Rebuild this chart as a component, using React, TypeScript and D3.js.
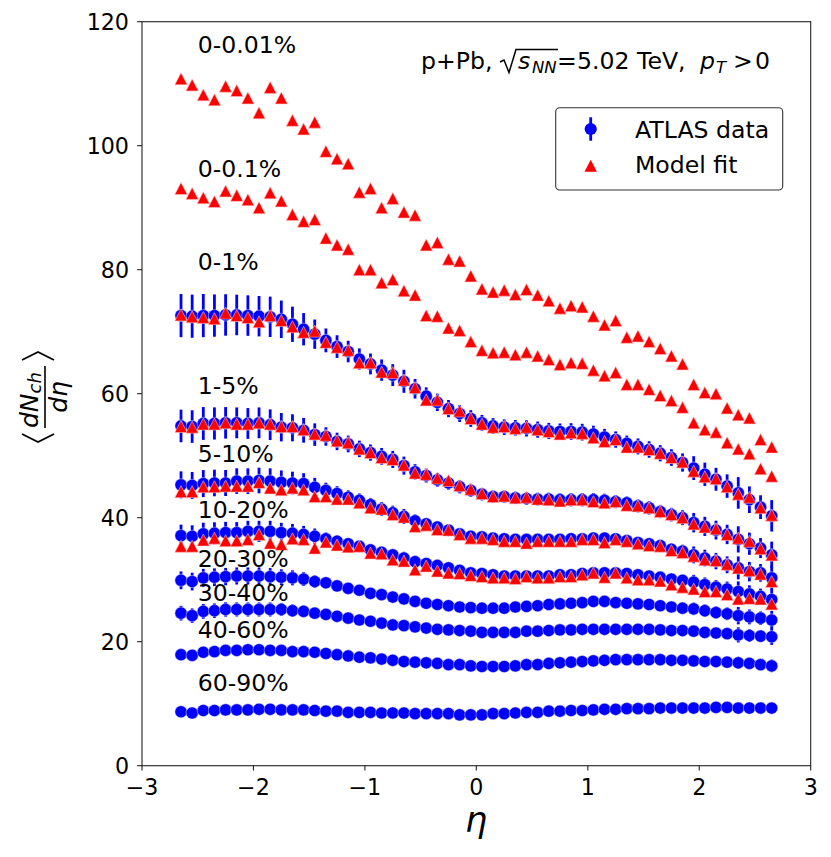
import * as d3 from 'd3';

const eta = [
  -2.65, -2.55, -2.45, -2.35, -2.25, -2.15, -2.05, -1.95, -1.85, -1.75, -1.65, -1.55, -1.45, -1.35,
  -1.25, -1.15, -1.05, -0.95, -0.85, -0.75, -0.65, -0.55, -0.45, -0.35, -0.25, -0.15, -0.05,
  0.05, 0.15, 0.25, 0.35, 0.45, 0.55, 0.65, 0.75, 0.85, 0.95, 1.05, 1.15, 1.25, 1.35, 1.45,
  1.55, 1.65, 1.75, 1.85, 1.95, 2.05, 2.15, 2.25, 2.35, 2.45, 2.55, 2.65,
];

// ATLAS data (blue circles)
const data0_1 = [72.6, 72.5, 72.6, 72.6, 72.7, 72.7, 72.6, 72.5, 72.4, 72.0, 71.2, 70.4, 69.6, 68.6, 67.6, 66.8, 65.6, 64.8, 63.8, 63.0, 62.0, 60.8, 59.6, 58.6, 57.6, 56.8, 56.0, 55.3, 54.8, 54.6, 54.5, 54.4, 54.2, 54.0, 53.9, 53.9, 53.8, 53.5, 53.0, 52.6, 52.0, 51.5, 51.0, 50.4, 49.7, 48.9, 48.0, 47.0, 46.2, 45.1, 44.0, 42.9, 41.7, 40.3];
const data1_5 = [54.8, 54.7, 55.2, 55.2, 55.3, 55.3, 55.2, 55.3, 55.0, 54.6, 54.5, 54.1, 53.4, 53.1, 52.3, 51.9, 51.1, 50.5, 49.9, 49.4, 48.4, 47.4, 46.8, 46.1, 45.6, 45.0, 44.4, 43.8, 43.4, 43.4, 43.2, 43.1, 43.0, 43.0, 42.9, 42.9, 42.9, 42.9, 42.8, 42.6, 42.4, 41.9, 41.6, 41.0, 40.5, 40.0, 39.2, 38.6, 38.0, 37.3, 36.5, 35.8, 35.1, 34.0];
const data5_10 = [45.3, 45.2, 45.5, 45.6, 45.6, 45.9, 45.9, 46.0, 45.9, 45.7, 45.6, 45.5, 44.9, 44.4, 43.9, 43.3, 42.8, 42.1, 41.4, 40.8, 40.2, 39.5, 39.0, 38.5, 38.0, 37.4, 37.0, 36.9, 36.7, 36.6, 36.5, 36.5, 36.5, 36.5, 36.5, 36.6, 36.6, 36.7, 36.7, 36.6, 36.3, 36.0, 35.8, 35.5, 34.9, 34.6, 34.0, 33.5, 33.0, 32.4, 31.9, 31.3, 31.1, 30.3];
const data10_20 = [37.1, 37.0, 37.4, 37.5, 37.6, 37.6, 37.8, 37.8, 37.8, 37.6, 37.5, 37.3, 37.0, 36.6, 36.2, 35.8, 35.4, 34.8, 34.4, 34.0, 33.5, 32.9, 32.6, 32.3, 31.9, 31.5, 31.1, 31.0, 30.8, 30.6, 30.6, 30.6, 30.6, 30.6, 30.8, 30.8, 31.0, 31.1, 31.1, 31.1, 31.0, 30.8, 30.6, 30.4, 30.1, 29.9, 29.6, 29.2, 28.8, 28.5, 28.1, 27.7, 27.3, 26.8];
const data20_30 = [29.9, 29.7, 30.3, 30.4, 30.5, 30.6, 30.6, 30.6, 30.5, 30.4, 30.3, 30.1, 29.7, 29.5, 29.0, 28.6, 28.3, 27.8, 27.6, 27.2, 26.9, 26.5, 26.2, 26.0, 25.8, 25.6, 25.5, 25.4, 25.4, 25.4, 25.6, 25.7, 25.8, 26.0, 26.1, 26.2, 26.3, 26.5, 26.5, 26.3, 26.2, 26.1, 26.0, 25.8, 25.6, 25.4, 25.3, 25.0, 24.7, 24.5, 24.2, 24.0, 23.8, 23.5];
const data30_40 = [24.6, 24.2, 24.9, 25.0, 25.2, 25.2, 25.2, 25.2, 25.2, 25.2, 25.0, 24.9, 24.6, 24.4, 24.1, 23.8, 23.5, 23.3, 23.0, 22.7, 22.6, 22.4, 22.2, 22.0, 21.9, 21.8, 21.7, 21.5, 21.5, 21.5, 21.5, 21.7, 21.7, 21.8, 21.9, 21.9, 22.0, 22.0, 22.0, 22.0, 22.0, 22.0, 22.0, 21.9, 21.8, 21.8, 21.7, 21.5, 21.4, 21.3, 21.1, 21.0, 20.9, 20.8];
const data40_60 = [17.9, 17.8, 18.3, 18.4, 18.6, 18.6, 18.7, 18.7, 18.6, 18.6, 18.4, 18.4, 18.3, 18.1, 17.9, 17.7, 17.5, 17.4, 17.2, 17.0, 16.8, 16.7, 16.6, 16.5, 16.3, 16.3, 16.1, 16.0, 16.0, 16.0, 16.1, 16.3, 16.3, 16.5, 16.6, 16.7, 16.8, 16.9, 17.0, 17.1, 17.1, 17.1, 17.1, 17.1, 17.0, 17.0, 16.9, 16.8, 16.8, 16.7, 16.6, 16.5, 16.3, 16.1];
const data60_90 = [8.7, 8.5, 8.9, 8.9, 9.0, 9.0, 9.0, 9.1, 9.1, 9.0, 9.0, 9.0, 8.9, 8.8, 8.8, 8.6, 8.6, 8.6, 8.5, 8.5, 8.5, 8.4, 8.4, 8.4, 8.4, 8.2, 8.2, 8.2, 8.4, 8.4, 8.5, 8.6, 8.6, 8.8, 8.8, 8.9, 8.9, 9.0, 9.1, 9.1, 9.2, 9.2, 9.2, 9.3, 9.3, 9.3, 9.3, 9.3, 9.4, 9.4, 9.3, 9.3, 9.3, 9.3];

// relative uncertainty of the data vs eta
const relErr = [0.048, 0.048, 0.048, 0.047, 0.046, 0.045, 0.045, 0.045, 0.045, 0.042, 0.040, 0.037, 0.034, 0.028, 0.027, 0.026, 0.026, 0.026, 0.027, 0.028, 0.030, 0.026, 0.024, 0.024, 0.024, 0.024, 0.024, 0.023, 0.023, 0.023, 0.023, 0.024, 0.024, 0.024, 0.024, 0.025, 0.025, 0.025, 0.025, 0.025, 0.024, 0.025, 0.026, 0.026, 0.027, 0.030, 0.040, 0.040, 0.040, 0.042, 0.058, 0.050, 0.046, 0.063];

// Model fit (red triangles)
const model0_001 = [110.8, 109.8, 108.2, 107.4, 109.6, 108.9, 107.7, 105.3, 109.4, 107.7, 104.1, 102.7, 103.8, 99.1, 97.9, 97.1, 92.5, 93.1, 90.0, 91.5, 89.3, 88.8, 84.0, 84.4, 81.7, 81.4, 79.0, 76.9, 76.4, 76.7, 76.0, 76.8, 75.9, 75.0, 73.8, 74.2, 74.0, 72.5, 71.1, 71.8, 69.1, 69.3, 68.4, 67.3, 66.1, 64.8, 61.5, 60.2, 60.0, 57.7, 56.6, 56.1, 52.6, 51.4];
const model0_01 = [93.1, 92.3, 91.6, 91.0, 92.7, 92.0, 91.3, 90.0, 92.4, 91.1, 88.9, 87.8, 88.1, 85.1, 84.0, 83.3, 80.0, 80.0, 77.9, 78.4, 76.6, 75.9, 72.6, 72.5, 70.6, 70.2, 68.4, 67.0, 66.6, 66.7, 66.3, 66.7, 66.1, 65.5, 64.7, 65.0, 64.9, 63.8, 62.9, 63.4, 61.5, 61.5, 60.7, 59.7, 58.9, 57.8, 55.3, 54.2, 53.8, 52.1, 51.1, 50.3, 47.9, 46.7];
const model0_1 = [72.7, 72.4, 72.3, 72.1, 73.0, 72.6, 72.3, 71.6, 72.6, 71.8, 70.8, 69.9, 70.1, 68.3, 67.5, 67.0, 65.0, 65.0, 63.5, 63.4, 62.2, 61.0, 59.0, 59.0, 57.6, 57.2, 56.0, 55.1, 54.6, 54.7, 54.4, 54.6, 54.2, 53.9, 53.5, 53.7, 53.6, 52.9, 52.3, 52.6, 51.4, 51.4, 51.0, 50.4, 49.7, 49.0, 47.5, 46.6, 46.3, 45.0, 43.8, 43.3, 41.6, 40.4];
const model1_5 = [54.7, 54.6, 55.1, 55.1, 55.3, 55.1, 55.1, 55.3, 55.1, 54.7, 54.7, 54.2, 53.5, 53.3, 52.4, 52.1, 51.1, 50.5, 49.7, 49.4, 48.5, 47.2, 47.0, 46.4, 46.0, 45.2, 44.6, 43.9, 43.4, 43.5, 43.2, 43.3, 43.0, 42.9, 42.7, 42.9, 42.9, 42.6, 42.4, 42.6, 42.0, 41.9, 41.6, 41.0, 40.5, 40.0, 39.0, 38.5, 38.2, 37.3, 36.7, 36.2, 35.0, 34.0];
const model5_10 = [44.2, 44.2, 45.0, 45.0, 45.1, 45.1, 45.1, 45.7, 44.8, 44.5, 44.8, 44.5, 43.4, 43.4, 43.0, 43.0, 42.4, 41.6, 41.4, 40.5, 40.1, 38.6, 38.8, 38.1, 38.0, 37.3, 36.7, 36.7, 36.5, 36.2, 36.2, 35.9, 36.2, 36.2, 36.2, 36.2, 36.5, 36.5, 36.0, 36.5, 36.2, 35.8, 35.5, 35.4, 34.7, 34.4, 33.8, 33.2, 33.1, 32.5, 31.9, 31.5, 30.9, 29.7];
const model10_20 = [35.4, 35.4, 36.4, 36.7, 36.3, 36.3, 36.5, 37.3, 35.9, 35.7, 36.6, 36.5, 35.1, 36.1, 35.6, 35.3, 35.4, 34.3, 34.2, 33.2, 33.0, 31.6, 32.2, 31.4, 31.1, 31.0, 30.7, 30.5, 30.3, 30.3, 30.2, 30.5, 30.3, 30.3, 30.5, 30.5, 30.8, 31.1, 30.4, 31.1, 30.3, 30.0, 30.0, 29.8, 29.2, 28.8, 28.5, 28.1, 28.1, 27.6, 26.9, 27.0, 26.9, 26.1];

const labelNames = ['0-0.01%', '0-0.1%', '0-1%', '1-5%', '5-10%', '10-20%', '20-30%', '30-40%', '40-60%', '60-90%'];
const labelY = [115, 95, 80, 60, 49, 40, 32, 26.5, 20.6, 12];
const labelX = -2.5;

const xTicks = [-3, -2, -1, 0, 1, 2, 3];
const yTicks = [0, 20, 40, 60, 80, 100, 120];

const dataSeries = [data0_1, data1_5, data5_10, data10_20, data20_30, data30_40, data40_60, data60_90];
const modelSeries = [model0_001, model0_01, model0_1, model1_5, model5_10, model10_20];

const W = 831;
const H = 857;
const FONT = 'DejaVu Sans, sans-serif';
const BLUE = '#0000ff';
const RED = '#ff0000';

const x = d3.scaleLinear().domain([-3, 3]).range([142, 810.7]);
const y = d3.scaleLinear().domain([0, 120]).range([765.7, 21.7]);

const tri = 'M0,-6L6.2,6L-6.2,6Z';
const fmt = (v: number) => (v < 0 ? `\u2212${Math.abs(v)}` : `${v}`);

export default function App() {
  return (
    <svg
      width={W}
      height={H}
      style={{ position: 'absolute', left: 0, top: 0, background: '#fff' }}
      fontFamily={FONT}
    >
      <rect width={W} height={H} fill="#fff" />

      {/* data with error bars */}
      {dataSeries.map((s, si) => (
        <g key={`d${si}`}>
          {s.map((v, i) => (
            <line
              key={`e${i}`}
              x1={x(eta[i])}
              x2={x(eta[i])}
              y1={y(v + v * relErr[i])}
              y2={y(v - v * relErr[i])}
              stroke={BLUE}
              strokeWidth={2.8}
            />
          ))}
          {s.map((v, i) => (
            <circle key={`c${i}`} cx={x(eta[i])} cy={y(v)} r={6.1} fill={BLUE} stroke="#d0d0ff" strokeWidth={0.5} />
          ))}
        </g>
      ))}

      {/* model */}
      {modelSeries.map((s, si) => (
        <g key={`m${si}`}>
          {s.map((v, i) => (
            <path
              key={i}
              d={tri}
              transform={`translate(${x(eta[i])},${y(v)})`}
              fill={RED}
              stroke="#ffc0c0"
              strokeWidth={0.6}
            />
          ))}
        </g>
      ))}

      {/* centrality labels */}
      {labelNames.map((t, i) => (
        <text key={t} x={x(labelX)} y={y(labelY[i])} fontSize={23.6} fill="#000">
          {t}
        </text>
      ))}

      {/* frame */}
      <rect x={142} y={21.7} width={668.7} height={744} fill="none" stroke="#222" strokeWidth={1.1} />

      {/* x ticks */}
      {xTicks.map((t) => (
        <g key={`xt${t}`}>
          <line x1={x(t)} x2={x(t)} y1={765.7} y2={770.6} stroke="#222" strokeWidth={1.1} />
          <text x={x(t)} y={795} fontSize={22.2} textAnchor="middle">
            {fmt(t)}
          </text>
        </g>
      ))}

      {/* y ticks */}
      {yTicks.map((t) => (
        <g key={`yt${t}`}>
          <line x1={137.1} x2={142} y1={y(t)} y2={y(t)} stroke="#222" strokeWidth={1.1} />
          <text x={129} y={y(t)} dy="0.36em" fontSize={22.2} textAnchor="end">
            {t}
          </text>
        </g>
      ))}

      {/* x label */}
      <text x={476} y={832} fontSize={35} fontStyle="italic" textAnchor="middle">
        η
      </text>

      {/* y label: <dN_ch/deta> */}
      <g transform="translate(45,397) rotate(-90)">
        <line x1={-31} x2={31} y1={0} y2={0} stroke="#000" strokeWidth={1.6} />
        <text x={-31} y={-7} fontSize={25} fontStyle="italic">
          dN
          <tspan fontSize={18} dy={3}>ch</tspan>
        </text>
        <text x={0} y={22} fontSize={25} fontStyle="italic" textAnchor="middle">
          dη
        </text>
        <path d="M-37,-23L-45,-7L-37,9" fill="none" stroke="#000" strokeWidth={1.8} />
        <path d="M37,-23L45,-7L37,9" fill="none" stroke="#000" strokeWidth={1.8} />
      </g>

      {/* annotation */}
      <g fontSize={23.6}>
        <text x={421} y={68.5}>p+Pb,</text>
        <path d="M500,62L504,60L509,72.5L516,49.5L558,49.5" fill="none" stroke="#000" strokeWidth={1.5} />
        <text x={518} y={68.5} fontStyle="italic">s</text>
        <text x={532} y={73} fontSize={16.5} fontStyle="italic">NN</text>
        <text x={557} y={68.5}>=</text>
        <text x={577} y={68.5}>5.02 TeV,</text>
        <text x={700} y={68.5} fontStyle="italic">p</text>
        <text x={716} y={73} fontSize={16.5} fontStyle="italic">T</text>
        <text x={733} y={68.5}>&gt;</text>
        <text x={755} y={68.5}>0</text>
      </g>

      {/* legend */}
      <rect x={555.7} y={107.7} width={227} height={82.3} rx={4} fill="#fff" stroke="#333" strokeWidth={1.1} />
      <line x1={590.7} x2={590.7} y1={117.3} y2={140.7} stroke={BLUE} strokeWidth={2.8} />
      <circle cx={590.7} cy={129} r={6.1} fill={BLUE} />
      <text x={635} y={138.3} fontSize={23.6}>ATLAS data</text>
      <path d={tri} transform="translate(590.7,165.7)" fill={RED} />
      <text x={635} y={172.7} fontSize={23.6}>Model fit</text>
    </svg>
  );
}
